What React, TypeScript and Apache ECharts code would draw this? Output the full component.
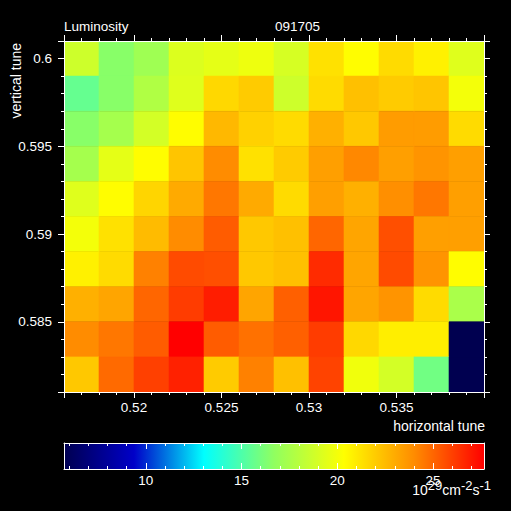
import React, { useEffect, useRef } from "react";
import * as echarts from "echarts";

// horizontal tune (cell centres) and vertical tune (cell centres, top to bottom)
const horizontalTune = [0.517, 0.519, 0.521, 0.523, 0.525, 0.527, 0.529, 0.531, 0.533, 0.535, 0.537, 0.539];
const verticalTune = [0.6, 0.598, 0.596, 0.594, 0.592, 0.59, 0.588, 0.586, 0.584, 0.582];

// luminosity (1e29 cm^-2 s^-1), one row per vertical tune
const lumV0600 = [18.7, 16.5, 17.2, 19.2, 19.5, 19.8, 19.0, 21.3, 20.4, 21.5, 20.8, 19.3];
const lumV0598 = [15.6, 16.5, 17.75, 19.3, 21.6, 22.0, 18.7, 21.5, 22.35, 22.0, 22.2, 20.0];
const lumV0596 = [16.5, 17.4, 18.9, 20.4, 22.6, 21.8, 21.5, 22.85, 22.1, 23.5, 23.5, 21.5];
const lumV0594 = [17.4, 19.5, 20.4, 22.2, 24.0, 21.3, 22.0, 23.4, 24.1, 23.4, 23.75, 23.4];
const lumV0592 = [19.3, 20.4, 21.7, 23.05, 24.55, 23.05, 21.5, 23.4, 22.85, 23.9, 24.55, 23.4];
const lumV0590 = [20.0, 21.3, 22.5, 24.0, 25.25, 22.1, 22.35, 25.0, 23.2, 25.6, 23.4, 23.4];
const lumV0588 = [20.8, 21.5, 24.3, 25.7, 25.6, 22.1, 22.35, 26.55, 23.2, 25.7, 23.75, 20.4];
const lumV0586 = [22.85, 23.2, 25.0, 26.1, 26.9, 23.2, 25.15, 27.1, 23.2, 23.75, 21.5, 17.55];
const lumV0584 = [24.0, 24.55, 25.25, 27.66, 25.25, 24.7, 25.15, 26.1, 21.6, 20.9, 20.9, 5.73];
const lumV0582 = [22.1, 24.9, 26.0, 26.8, 22.0, 24.3, 22.35, 25.9, 19.9, 18.9, 15.9, 5.73];
const luminosityRows = [lumV0600, lumV0598, lumV0596, lumV0594, lumV0592, lumV0590, lumV0588, lumV0586, lumV0584, lumV0582];

const X_MIN = 0.516, X_MAX = 0.54, Y_MIN = 0.581, Y_MAX = 0.601;
const HALF_W = 0.001, HALF_H = 0.001;
const LUM_MIN = 5.73, LUM_MAX = 27.66;
const PALETTE = ["#000050", "#0000c8", "#00ffff", "#90ff60", "#ffff00", "#ff8c00", "#ff0000"];
const FONT = "'Liberation Sans', Arial, sans-serif";
const WHITE = "#ffffff";

export default function App() {
  const ref = useRef<HTMLDivElement>(null);
  useEffect(() => {
    document.body.style.margin = "0";
    document.body.style.background = "#000";
    const chart = echarts.init(ref.current!, null, { renderer: "svg" });

    const cells: number[][] = [];
    luminosityRows.forEach((row, j) => {
      row.forEach((v, i) => cells.push([horizontalTune[i], verticalTune[j], v]));
    });

    const line = { show: true, onZero: false, lineStyle: { color: WHITE, width: 1 } };
    const tick = (inside: boolean) => ({ show: true, inside, length: 6, lineStyle: { color: WHITE, width: 1 } });
    const minor = { show: true, splitNumber: 5, length: 3, lineStyle: { color: WHITE, width: 1 } };
    const label = (margin: number) => ({
      show: true, color: WHITE, fontSize: 13.5, fontFamily: FONT, margin,
      showMinLabel: false, showMaxLabel: false,
    });

    const option: any = {
      animation: false,
      backgroundColor: "#000000",
      grid: [
        { left: 64, top: 41, width: 420, height: 351 },
        { left: 64, top: 443, width: 420, height: 26 },
      ],
      xAxis: [
        { gridIndex: 0, type: "value", position: "bottom", min: X_MIN, max: X_MAX, axisLine: line, axisTick: tick(false), minorTick: minor, axisLabel: label(8), splitLine: { show: false }, z: 10 },
        { gridIndex: 0, type: "value", position: "top", min: X_MIN, max: X_MAX, axisLine: line, axisTick: tick(false), minorTick: minor, axisLabel: { show: false }, splitLine: { show: false }, z: 10 },
        { gridIndex: 1, type: "value", position: "bottom", min: LUM_MIN, max: LUM_MAX, axisLine: line, axisTick: tick(true), minorTick: minor, axisLabel: label(4), splitLine: { show: false }, z: 10 },
        { gridIndex: 1, type: "value", position: "top", min: LUM_MIN, max: LUM_MAX, axisLine: line, axisTick: tick(true), minorTick: minor, axisLabel: { show: false }, splitLine: { show: false }, z: 10 },
      ],
      yAxis: [
        { gridIndex: 0, type: "value", position: "left", min: Y_MIN, max: Y_MAX, axisLine: line, axisTick: tick(false), minorTick: minor, axisLabel: label(12), splitLine: { show: false }, z: 10 },
        { gridIndex: 0, type: "value", position: "right", min: Y_MIN, max: Y_MAX, axisLine: line, axisTick: tick(false), minorTick: minor, axisLabel: { show: false }, splitLine: { show: false }, z: 10 },
        { gridIndex: 1, type: "value", position: "left", min: 0, max: 1, axisLine: line, axisTick: { show: false }, axisLabel: { show: false }, splitLine: { show: false }, z: 10 },
        { gridIndex: 1, type: "value", position: "right", min: 0, max: 1, axisLine: line, axisTick: { show: false }, axisLabel: { show: false }, splitLine: { show: false }, z: 10 },
      ],
      visualMap: {
        show: false, type: "continuous", min: LUM_MIN, max: LUM_MAX, dimension: 2, seriesIndex: 0,
        inRange: { color: PALETTE },
      },
      series: [
        {
          type: "custom", xAxisIndex: 0, yAxisIndex: 0, data: cells, clip: true,
          renderItem: (params: any, api: any) => {
            const x = api.value(0), y = api.value(1);
            const p0 = api.coord([x - HALF_W, y + HALF_H]);
            const p1 = api.coord([x + HALF_W, y - HALF_H]);
            const c = api.visual("color");
            return {
              type: "rect",
              shape: { x: p0[0], y: p0[1], width: p1[0] - p0[0], height: p1[1] - p0[1] },
              style: { fill: c, stroke: c, lineWidth: 0.6 },
            };
          },
        },
        {
          type: "custom", xAxisIndex: 2, yAxisIndex: 2, data: [[LUM_MIN, LUM_MAX]],
          renderItem: (params: any, api: any) => {
            const p0 = api.coord([api.value(0), 1]);
            const p1 = api.coord([api.value(1), 0]);
            return {
              type: "rect",
              shape: { x: p0[0], y: p0[1], width: p1[0] - p0[0], height: p1[1] - p0[1] },
              style: {
                fill: {
                  type: "linear", x: 0, y: 0, x2: 1, y2: 0,
                  colorStops: PALETTE.map((c, i) => ({ offset: i / (PALETTE.length - 1), color: c })),
                },
              },
            };
          },
        },
      ],
      graphic: [
        { type: "text", left: 64, top: 19, style: { text: "Luminosity", fill: WHITE, font: `13.5px ${FONT}` } },
        { type: "text", left: 275, top: 19, style: { text: "091705", fill: WHITE, font: `13.5px ${FONT}` } },
        { type: "text", right: 26, top: 419, style: { text: "horizontal tune", fill: WHITE, font: `14px ${FONT}` } },
        {
          type: "text", x: 16, y: 43, rotation: Math.PI / 2,
          style: { text: "vertical tune", fill: WHITE, font: `14px ${FONT}`, align: "right", verticalAlign: "middle" },
        },
        {
          type: "text", x: 491, y: 479,
          style: {
            text: "{h| }{b|10}{s|29}{b|cm}{s|-2}{b|s}{s|-1}", fill: WHITE, align: "right", verticalAlign: "top",
            rich: {
              h: { fontSize: 1, lineHeight: 18 },
              b: { fontSize: 14, fontFamily: FONT, fill: WHITE, lineHeight: 13, verticalAlign: "bottom" },
              s: { fontSize: 13, fontFamily: FONT, fill: WHITE, lineHeight: 13, verticalAlign: "top" },
            },
          },
        },
      ],
    };
    chart.setOption(option);
    return () => chart.dispose();
  }, []);
  return (
    <div
      ref={ref}
      style={{ position: "fixed", left: 0, top: 0, width: 511, height: 511, background: "#000" }}
    />
  );
}
